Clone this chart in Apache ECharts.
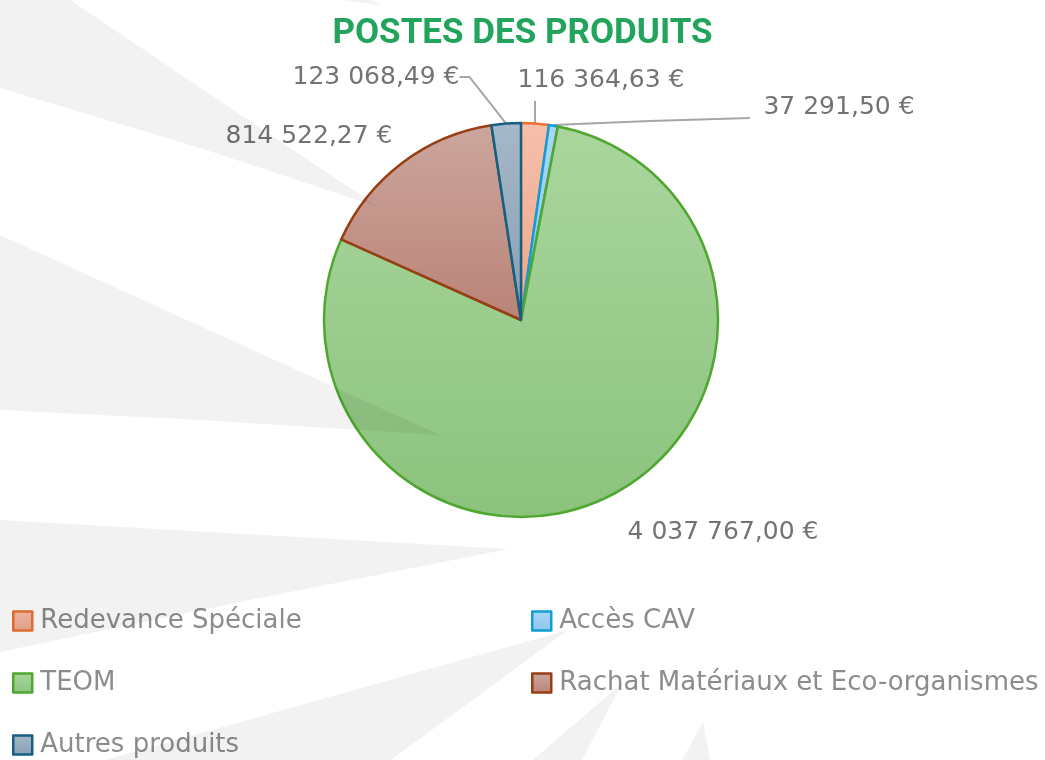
<!DOCTYPE html>
<html>
<head>
<meta charset="utf-8">
<script src="https://cdn.jsdelivr.net/npm/echarts@6/dist/echarts.min.js"></script>
<style>
  html, body { margin: 0; padding: 0; background: #fff; }
  #main { width: 1045px; height: 760px; }
</style>
</head>
<body>
<div id="main"></div>
<script>
// données du graphique
var categories = ['Redevance Spéciale', 'Accès CAV', 'TEOM', 'Rachat Matériaux et Eco-organismes', 'Autres produits'];
var values = [116364.63, 37291.50, 4037767.00, 814522.27, 123068.49];

// styles des secteurs
var fillTop = ['#f6c0aa', '#aad7f6', '#aad69e', '#cca69d', '#a5b8c8'];
var fillBottom = ['#eea58c', '#8cc5ee', '#8bc37d', '#ba8377', '#889fb5'];
var borderColors = ['#e97132', '#0f9ed5', '#4ea72e', '#993d12', '#156082'];
var showLine = [true, true, false, false, true];
// position des étiquettes (centre du texte)
var labelPos = [[601, 80], [839, 107], [723, 532], [309, 136], [376, 77]];

var FONT = 'DejaVu Sans';

function fmtEuro(v) {
  var parts = v.toFixed(2).split('.');
  return parts[0].replace(/\B(?=(\d{3})+(?!\d))/g, ' ') + ',' + parts[1] + ' €';
}

// rayons décoratifs du fond
var rays = [
  [[0, 0], [70, 0], [378, 207], [200, 148], [0, 88]],
  [[345, 0], [384, 6], [372, 0]],
  [[0, 235], [440, 435], [200, 420], [0, 410]],
  [[0, 520], [509, 549], [250, 600], [0, 652]],
  [[568, 630], [105, 760], [391, 760]],
  [[623, 682], [533, 760], [582, 760]],
  [[703, 722], [682, 760], [710, 760]]
];

var chart = echarts.init(document.getElementById('main'));

var pieData = categories.map(function (name, i) {
  return {
    name: name,
    value: values[i],
    itemStyle: {
      color: new echarts.graphic.LinearGradient(0, 0, 0, 1, [
        { offset: 0, color: fillTop[i] },
        { offset: 1, color: fillBottom[i] }
      ]),
      borderColor: borderColors[i],
      borderWidth: 2.5
    },
    labelLine: { show: showLine[i] }
  };
});

var legendBase = {
  orient: 'vertical',
  top: 608,
  padding: 0,
  icon: 'rect',
  itemWidth: 19,
  itemHeight: 19,
  itemGap: 36,
  selectedMode: false,
  itemStyle: { borderWidth: 2.5 },
  textStyle: { fontSize: 26, color: '#8c8c8c', fontFamily: FONT, lineHeight: 26, padding: [0, 0, 0, 3] }
};

chart.setOption({
  backgroundColor: '#ffffff',
  animation: false,
  title: {
    text: 'POSTES DES PRODUITS',
    left: 'center',
    top: 17,
    padding: 0,
    textStyle: {
      fontSize: 35,
      fontWeight: 'bold',
      color: '#22a45d',
      fontFamily: 'Roboto'
    }
  },
  legend: [
    Object.assign({}, legendBase, {
      data: [categories[0], categories[2], categories[4]],
      left: 12
    }),
    Object.assign({}, legendBase, {
      data: [categories[1], categories[3]],
      left: 531
    })
  ],
  graphic: rays.map(function (pts) {
    return {
      type: 'polygon',
      z: 10,
      silent: true,
      shape: { points: pts },
      style: { fill: 'rgba(0,0,0,0.05)' }
    };
  }),
  series: [{
    type: 'pie',
    center: [521, 320],
    radius: 197,
    startAngle: 90,
    clockwise: true,
    avoidLabelOverlap: false,
    data: pieData,
    label: {
      show: true,
      position: 'outside',
      fontSize: 25,
      color: '#737373',
      fontFamily: FONT,
      formatter: function (p) { return fmtEuro(p.value); }
    },
    labelLine: {
      show: true,
      length: 10,
      length2: 10,
      lineStyle: { color: '#a6a6a6', width: 2 }
    },
    labelLayout: function (p) {
      var pos = labelPos[p.dataIndex];
      var out = { x: pos[0], y: pos[1], align: 'center', verticalAlign: 'middle' };
      if (p.dataIndex === 0) {
        // trait vertical sous l'étiquette
        out.labelLinePoints = [[535, 123], [535, 112], [535, 101]];
      } else if (p.dataIndex === 1) {
        out.labelLinePoints = [[553, 125], [650, 121], [750, 118]];
      }
      return out;
    },
    emphasis: { disabled: true }
  }]
});
</script>
</body>
</html>
